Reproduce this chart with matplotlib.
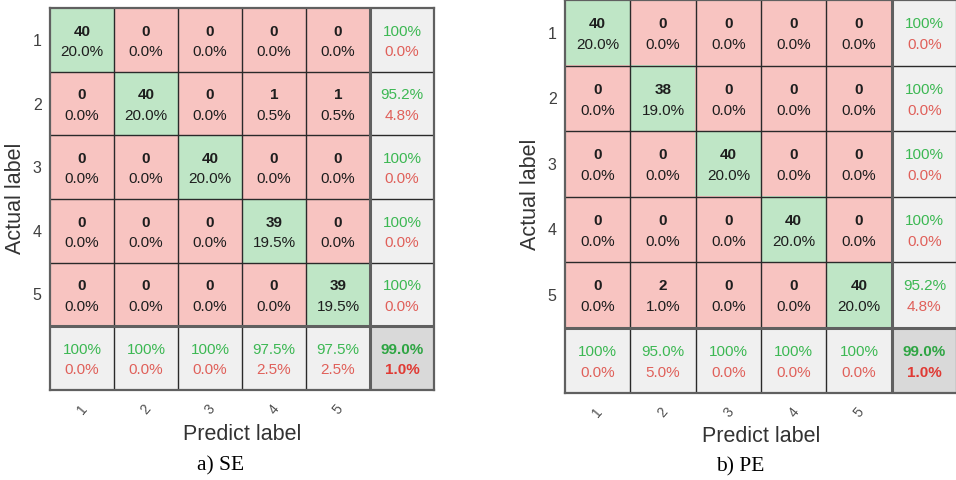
import numpy as np
import matplotlib
matplotlib.use("Agg")
import matplotlib.pyplot as plt
from matplotlib.colors import to_rgb

plt.rcParams["font.family"] = ["Liberation Sans", "DejaVu Sans"]

# Class names shown on both axes
classes = ["1", "2", "3", "4", "5"]

# Confusion matrices (rows = actual, columns = predicted)
cm_se = np.array([
    [40, 0, 0, 0, 0],
    [0, 40, 0, 1, 1],
    [0, 0, 40, 0, 0],
    [0, 0, 0, 39, 0],
    [0, 0, 0, 0, 39],
])
cm_pe = np.array([
    [40, 0, 0, 0, 0],
    [0, 38, 0, 0, 0],
    [0, 0, 40, 0, 0],
    [0, 0, 0, 40, 0],
    [0, 2, 0, 0, 40],
])

captions = ["a) SE", "b) PE"]

GREEN_BG = "#bfe6c6"
RED_BG = "#f8c4c1"
GRAY_BG = "#f0f0f0"
CORNER_BG = "#d9d9d9"
GREEN_TXT = "#3cb853"
RED_TXT = "#e0605a"
CELL_TXT = "#1e1e1e"

W, H = 956, 480


def fmt_pct(p):
    return "100%" if p >= 99.95 else f"{p:.1f}%"


def draw_confusion(ax, cm):
    n = cm.shape[0]
    total = cm.sum()
    img = np.zeros((n + 1, n + 1, 3))
    for i in range(n + 1):
        for j in range(n + 1):
            if i == n and j == n:
                c = CORNER_BG
            elif i == n or j == n:
                c = GRAY_BG
            elif i == j:
                c = GREEN_BG
            else:
                c = RED_BG
            img[i, j] = to_rgb(c)
    ax.imshow(img, extent=(0.5, n + 1.5, n + 1.5, 0.5),
              interpolation="nearest", aspect="auto")

    # grid lines
    for k in np.arange(1.5, n + 0.5):
        ax.plot([0.5, n + 1.5], [k, k], color="#2a2a2a", lw=1.0)
        ax.plot([k, k], [0.5, n + 1.5], color="#2a2a2a", lw=1.0)
    ax.plot([0.5, n + 1.5], [n + 0.5, n + 0.5], color="#606060", lw=2.2)
    ax.plot([n + 0.5, n + 0.5], [0.5, n + 1.5], color="#606060", lw=2.2)
    for s in ax.spines.values():
        s.set_color("#606060")
        s.set_linewidth(1.6)

    fs = 11
    # cell texts
    for i in range(n):
        for j in range(n):
            ax.text(j + 1, i + 1 - 0.13, f"{cm[i, j]}", ha="center", va="center",
                    fontsize=fs, fontweight="bold", color=CELL_TXT)
            ax.text(j + 1, i + 1 + 0.19, fmt_pct(100 * cm[i, j] / total),
                    ha="center", va="center", fontsize=fs, color=CELL_TXT)
    # row summaries (right column)
    for i in range(n):
        acc = 100 * cm[i, i] / cm[i].sum()
        ax.text(n + 1, i + 1 - 0.13, fmt_pct(acc), ha="center", va="center",
                fontsize=fs, color=GREEN_TXT)
        ax.text(n + 1, i + 1 + 0.19, fmt_pct(100 - acc), ha="center", va="center",
                fontsize=fs, color=RED_TXT)
    # column summaries (bottom row)
    for j in range(n):
        acc = 100 * cm[j, j] / cm[:, j].sum()
        ax.text(j + 1, n + 1 - 0.13, fmt_pct(acc), ha="center", va="center",
                fontsize=fs, color=GREEN_TXT)
        ax.text(j + 1, n + 1 + 0.19, fmt_pct(100 - acc), ha="center", va="center",
                fontsize=fs, color=RED_TXT)
    acc = 100 * np.trace(cm) / total
    ax.text(n + 1, n + 1 - 0.13, fmt_pct(acc), ha="center", va="center",
            fontsize=fs, fontweight="bold", color="#2ea543")
    ax.text(n + 1, n + 1 + 0.19, fmt_pct(100 - acc), ha="center", va="center",
            fontsize=fs, fontweight="bold", color="#e03a34")

    ax.set_xlim(0.5, n + 1.5)
    ax.set_ylim(n + 1.5, 0.5)
    ax.set_yticks(range(1, n + 1))
    ax.set_yticklabels(classes, fontsize=11.5, color="#404040")
    ax.set_xticks(range(1, n + 1))
    ax.set_xticklabels(classes, fontsize=10, color="#505050", rotation=50,
                       rotation_mode="anchor", ha="center", va="center")
    ax.tick_params(axis="y", length=0, pad=6)
    ax.tick_params(axis="x", length=0, pad=14)


fig = plt.figure(figsize=(W / 100, H / 100), dpi=100)
fig.patch.set_facecolor("white")

# axes boxes in pixels: left, top, right, bottom
boxes = [(50, 8, 434, 390), (565, 0, 957, 393)]
ylabel_pos = [(16, 198), (530, 194)]
xlabel_y = [435, 437]
caption_pos = [(221, 466), (740, 467)]

for k, cm in enumerate([cm_se, cm_pe]):
    l, t, r, b = boxes[k]
    ax = fig.add_axes([l / W, 1 - b / H, (r - l) / W, (b - t) / H])
    draw_confusion(ax, cm)
    fig.text(ylabel_pos[k][0] / W, 1 - ylabel_pos[k][1] / H, "Actual label",
             rotation=90, ha="center", va="center", fontsize=15.5, color="#333333")
    fig.text((l + r) / 2 / W, 1 - xlabel_y[k] / H, "Predict label",
             ha="center", va="center", fontsize=15.5, color="#333333")
    fig.text(caption_pos[k][0] / W, 1 - caption_pos[k][1] / H, captions[k],
             ha="center", va="center", fontsize=15.5, color="black",
             family=["Liberation Serif", "DejaVu Serif"])

fig.savefig("out.png", dpi=100, facecolor="white")
